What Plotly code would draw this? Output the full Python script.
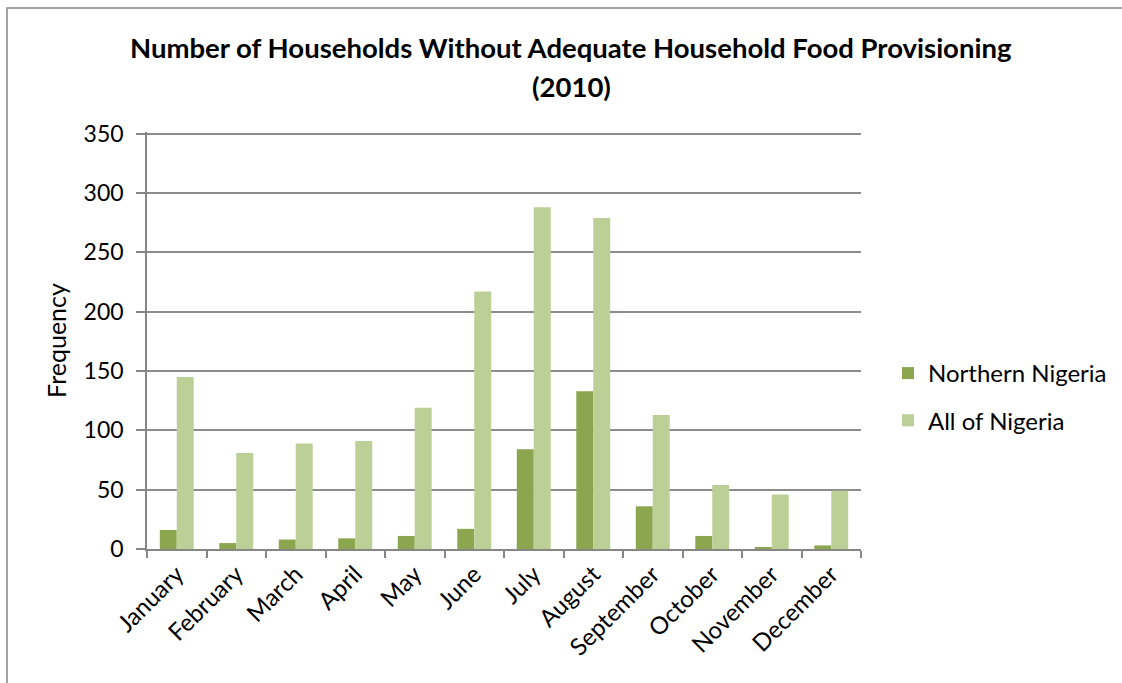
import plotly.graph_objects as go

months = ["January", "February", "March", "April", "May", "June", "July",
          "August", "September", "October", "November", "December"]
northern = [16, 5, 8, 9, 11, 17, 84, 133, 36, 11, 1, 3]
all_nigeria = [145, 81, 89, 91, 119, 217, 288, 279, 113, 54, 46, 49]
y_ticks = [0, 50, 100, 150, 200, 250, 300, 350]

FONT = "Lato"
W, H = 1122, 683
L, R, T, B = 147, 261, 132, 134
pw, ph = W - L - R, H - T - B

def px2x(p):
    return (p - L) / pw

def py2y(p):
    return (H - B - p) / ph

fig = go.Figure()
fig.add_trace(go.Bar(x=months, y=northern, name="Northern Nigeria",
                     marker=dict(color="#8BA64F", line=dict(width=0)),
                     legendgroup="a"))
fig.add_trace(go.Bar(x=months, y=all_nigeria, name="All of Nigeria",
                     marker=dict(color="#BBCF97", line=dict(width=0)),
                     legendgroup="b"))

fig.update_layout(
    width=W, height=H,
    margin=dict(l=L, r=R, t=T, b=B, autoexpand=False),
    paper_bgcolor="white", plot_bgcolor="white",
    barmode="group", bargap=0.43, bargroupgap=0,
    font=dict(family=FONT, color="black"),
    showlegend=True,
    legend=dict(x=px2x(888), y=py2y(351), xanchor="left", yanchor="top",
                font=dict(size=24, family=FONT), tracegroupgap=13,
                itemwidth=30, bgcolor="rgba(0,0,0,0)"),
    xaxis=dict(type="category", showline=True, linecolor="#868686", linewidth=1.5,
               ticks="outside", tickson="boundaries", ticklen=7, tickcolor="#868686",
               tickwidth=1.5, tickangle=-45, tickfont=dict(size=24, family=FONT),
               showgrid=False, automargin=False),
    yaxis=dict(range=[0, 351.5], tickvals=y_ticks, showline=True, linecolor="#868686",
               linewidth=1.5, ticks="outside", ticklen=9, tickcolor="#868686", tickwidth=1.5,
               showgrid=True, gridcolor="#8C8C8C", gridwidth=1.5,
               tickfont=dict(size=23, family=FONT), ticklabelstandoff=8,
               title=dict(text="Frequency", font=dict(size=25, family=FONT), standoff=10),
               zeroline=False, automargin=False),
)

fig.add_annotation(text="<b>Number of Households Without Adequate Household Food Provisioning</b>",
                   xref="paper", yref="paper", x=px2x(571), y=py2y(48),
                   xanchor="center", yanchor="middle", showarrow=False,
                   font=dict(size=27.5, family=FONT, color="black"))
fig.add_annotation(text="<b>(2010)</b>",
                   xref="paper", yref="paper", x=px2x(571), y=py2y(86),
                   xanchor="center", yanchor="middle", showarrow=False,
                   font=dict(size=27.5, family=FONT, color="black"))

fig.add_shape(type="rect", xref="paper", yref="paper",
              x0=px2x(7), x1=px2x(1200), y0=py2y(760), y1=py2y(8),
              line=dict(color="#868686", width=1.5), fillcolor="rgba(0,0,0,0)", layer="below")

fig.write_html("out.html")
